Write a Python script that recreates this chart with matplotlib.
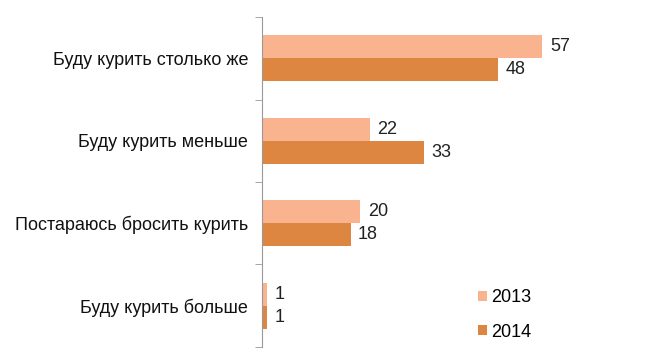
import numpy as np
import matplotlib.pyplot as plt

plt.rcParams['font.family'] = ['Liberation Sans', 'DejaVu Sans']

categories = ['Буду курить столько же', 'Буду курить меньше',
              'Постараюсь бросить курить', 'Буду курить больше']
v2013 = [57, 22, 20, 1]
v2014 = [48, 33, 18, 1]

c2013 = '#F9B38E'
c2014 = '#DD8642'

fig = plt.figure(figsize=(6.5, 3.64), dpi=100)
ax = fig.add_axes([0.403, 0.047, 0.53, 0.906])

y = np.arange(len(categories))
h = 0.28
b1 = ax.barh(y - h / 2, v2013, height=h, color=c2013, label='2013')
b2 = ax.barh(y + h / 2, v2014, height=h, color=c2014, label='2014')

for bars, vals in ((b1, v2013), (b2, v2014)):
    for bar, v in zip(bars, vals):
        ax.text(bar.get_width() + 1.5, bar.get_y() + bar.get_height() / 2, str(v),
                va='center', ha='left', fontsize=13, color='#222222')

ax.set_ylim(3.5, -0.5)
ax.set_xlim(0, 70)
ax.set_yticks(y)
ax.set_yticklabels(categories, fontsize=13, color='#111111')
ax.set_yticks(np.arange(-0.5, 4.0, 1.0), minor=True)
ax.tick_params(axis='y', which='major', length=0, pad=10)
ax.tick_params(axis='y', which='minor', length=5, color='#999999', direction='out')
ax.set_xticks([])
for s in ('top', 'right', 'bottom'):
    ax.spines[s].set_visible(False)
ax.spines['left'].set_color('#999999')

ax.legend(loc='lower left', bbox_to_anchor=(0.58, -0.03), frameon=False,
          fontsize=13, handlelength=0.5, handleheight=0.5, handletextpad=0.2,
          labelspacing=0.95)

fig.savefig('out.png')
